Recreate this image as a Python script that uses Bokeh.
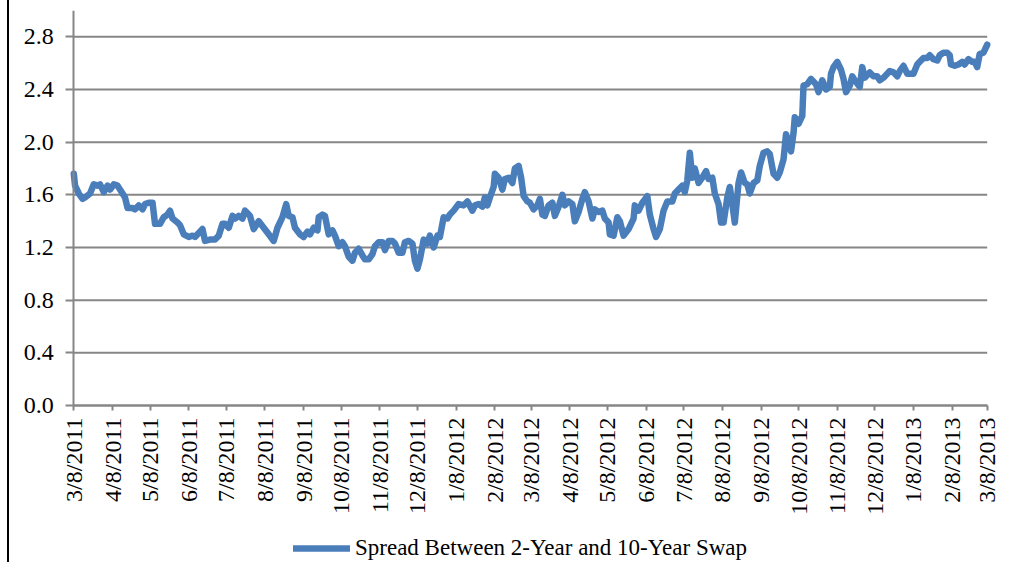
import math
import pandas as pd
from bokeh.plotting import figure
from bokeh.models import (Range1d, FixedTicker, Legend, LegendItem,
                          ColumnDataSource, PrintfTickFormatter)
from bokeh.embed import file_html
from bokeh.resources import INLINE

start_date = "2011-03-08"

tick_labels = ["3/8/2011", "4/8/2011", "5/8/2011", "6/8/2011", "7/8/2011",
               "8/8/2011", "9/8/2011", "10/8/2011", "11/8/2011", "12/8/2011",
               "1/8/2012", "2/8/2012", "3/8/2012", "4/8/2012", "5/8/2012",
               "6/8/2012", "7/8/2012", "8/8/2012", "9/8/2012", "10/8/2012",
               "11/8/2012", "12/8/2012", "1/8/2013", "2/8/2013", "3/8/2013"]

y_ticks = [0.0, 0.4, 0.8, 1.2, 1.6, 2.0, 2.4, 2.8]
y_max = 3.0

series_name = "Spread Between 2-Year and 10-Year Swap"

# days since 3/8/2011
day_offsets = [
    0, 1, 4, 7, 9, 13, 16, 19, 21, 24,
    27, 29, 32, 35, 39, 41, 43, 47, 49, 52,
    55, 57, 60, 63, 65, 69, 72, 75, 77, 79,
    83, 85, 88, 92, 95, 97, 100, 103, 105, 109,
    113, 116, 119, 121, 124, 127, 129, 132, 135, 137,
    140, 141, 144, 148, 152, 156, 160, 163, 167, 170,
    172, 175, 177, 181, 184, 187, 189, 192, 195, 196,
    199, 201, 204, 207, 209, 212, 215, 217, 220, 223,
    225, 228, 231, 233, 236, 239, 241, 244, 247, 249,
    252, 255, 257, 260, 263, 265, 268, 271, 273, 275,
    277, 280, 283, 285, 288, 291, 293, 296, 299, 301,
    304, 308, 312, 315, 319, 321, 324, 327, 329, 331,
    333, 336, 337, 340, 343, 345, 348, 351, 353, 356,
    358, 360, 363, 365, 368, 371, 373, 375, 377, 380,
    383, 385, 388, 391, 393, 396, 399, 401, 404, 407,
    409, 412, 415, 417, 420, 423, 425, 428, 429, 432,
    435, 437, 440, 444, 448, 449, 452, 455, 459, 461,
    464, 466, 469, 472, 475, 479, 481, 484, 487, 489,
    491, 493, 495, 497, 500, 503, 506, 508, 511, 513,
    516, 518, 520, 523, 525, 527, 529, 532, 534, 537,
    539, 541, 544, 547, 549, 552, 555, 557, 560, 563,
    565, 568, 570, 572, 574, 576, 577, 580, 583, 584,
    587, 590, 594, 596, 599, 602, 605, 606, 608, 611,
    614, 616, 618, 621, 623, 625, 629, 631, 633, 637,
    640, 643, 645, 648, 651, 653, 656, 659, 661, 664,
    667, 669, 672, 675, 677, 680, 683, 685, 688, 691,
    693, 696, 699, 701, 702, 705, 708, 711, 713, 716,
    719, 721, 723, 725, 728, 731,
]

spread = [
    1.76, 1.67, 1.61, 1.57, 1.58, 1.61, 1.68, 1.67, 1.68, 1.62,
    1.67, 1.64, 1.68, 1.67, 1.61, 1.58, 1.50, 1.50, 1.49, 1.52,
    1.49, 1.53, 1.54, 1.54, 1.38, 1.38, 1.43, 1.45, 1.48, 1.42,
    1.39, 1.37, 1.30, 1.28, 1.29, 1.28, 1.31, 1.34, 1.25, 1.26,
    1.26, 1.29, 1.38, 1.38, 1.35, 1.44, 1.42, 1.44, 1.42, 1.48,
    1.45, 1.44, 1.34, 1.40, 1.35, 1.30, 1.25, 1.35, 1.43, 1.53,
    1.44, 1.43, 1.35, 1.30, 1.28, 1.32, 1.30, 1.35, 1.33, 1.43,
    1.45, 1.44, 1.30, 1.33, 1.29, 1.21, 1.24, 1.21, 1.13, 1.10,
    1.16, 1.19, 1.14, 1.11, 1.11, 1.15, 1.21, 1.24, 1.24, 1.18,
    1.25, 1.25, 1.23, 1.16, 1.16, 1.24, 1.25, 1.23, 1.10, 1.04,
    1.11, 1.26, 1.23, 1.29, 1.20, 1.29, 1.28, 1.43, 1.42, 1.45,
    1.48, 1.53, 1.52, 1.55, 1.48, 1.52, 1.53, 1.51, 1.58, 1.52,
    1.58, 1.66, 1.76, 1.73, 1.64, 1.72, 1.73, 1.69, 1.80, 1.82,
    1.73, 1.59, 1.55, 1.54, 1.49, 1.52, 1.57, 1.45, 1.44, 1.52,
    1.54, 1.44, 1.51, 1.60, 1.52, 1.55, 1.53, 1.40, 1.47, 1.57,
    1.62, 1.55, 1.42, 1.49, 1.47, 1.48, 1.42, 1.39, 1.30, 1.29,
    1.43, 1.40, 1.29, 1.34, 1.42, 1.52, 1.48, 1.54, 1.59, 1.45,
    1.34, 1.28, 1.34, 1.48, 1.55, 1.55, 1.61, 1.64, 1.67, 1.62,
    1.71, 1.92, 1.73, 1.80, 1.69, 1.73, 1.78, 1.72, 1.73, 1.61,
    1.53, 1.39, 1.39, 1.58, 1.66, 1.53, 1.39, 1.69, 1.77, 1.69,
    1.68, 1.61, 1.69, 1.71, 1.82, 1.92, 1.93, 1.91, 1.76, 1.73,
    1.77, 1.87, 2.06, 2.00, 1.93, 2.07, 2.19, 2.14, 2.20, 2.43,
    2.44, 2.48, 2.44, 2.38, 2.47, 2.40, 2.42, 2.52, 2.57, 2.61,
    2.55, 2.48, 2.38, 2.43, 2.50, 2.47, 2.42, 2.57, 2.49, 2.53,
    2.50, 2.50, 2.47, 2.49, 2.52, 2.54, 2.53, 2.50, 2.54, 2.58,
    2.52, 2.52, 2.52, 2.59, 2.61, 2.64, 2.64, 2.66, 2.63, 2.62,
    2.66, 2.68, 2.68, 2.66, 2.59, 2.58, 2.59, 2.61, 2.59, 2.63,
    2.61, 2.61, 2.57, 2.67, 2.68, 2.74,
]

assert len(day_offsets) == len(spread)

base = pd.Timestamp(start_date)
dates = base + pd.to_timedelta(day_offsets, unit="D")
tick_dates = pd.to_datetime(tick_labels, format="%m/%d/%Y")
epoch = pd.Timestamp("1970-01-01")
tick_ms = [int((d - epoch).total_seconds() * 1000) for d in tick_dates]
x_start, x_end = tick_dates[0], tick_dates[-1]

src = ColumnDataSource(data=dict(date=dates, spread=spread))

FONT = "Liberation Serif"
GRAY = "#868686"

# ---- layout (page pixels) ----
FIG_X0, FIG_W, H = 9, 1003, 562      # figure starts after the black left rule
AX_X0, AX_X1 = 73.3, 986.7           # first / last date on the page
TOP, ZERO_Y = 10, 405                # y = y_max / y = 0 on the page
span_days = (x_end - x_start).days
px_per_day = (AX_X1 - AX_X0) / span_days
left_pad = pd.Timedelta(days=(AX_X0 - FIG_X0) / px_per_day)
right_pad = pd.Timedelta(days=(FIG_X0 + FIG_W - AX_X1) / px_per_day)
px_per_unit = (ZERO_Y - TOP) / y_max
y_bottom = -(H - ZERO_Y) / px_per_unit

p = figure(width=FIG_W, height=H, x_axis_type="datetime",
           output_backend="svg", toolbar_location=None,
           x_range=Range1d(x_start - left_pad, x_end + right_pad),
           y_range=Range1d(y_bottom, y_max),
           min_border_left=0, min_border_right=0,
           min_border_top=TOP, min_border_bottom=0)
p.styles = {"border-left": "2px solid #000000", "margin-left": "7px"}
p.outline_line_color = None
p.background_fill_color = "white"
p.border_fill_color = "white"
p.xgrid.visible = False
p.ygrid.visible = False

# horizontal gridlines spanning the date axis only
p.segment(x0=[x_start] * len(y_ticks), y0=y_ticks,
          x1=[x_end] * len(y_ticks), y1=y_ticks,
          line_color=GRAY, line_width=2)

# axes fixed inside the frame
p.xaxis.fixed_location = 0
p.xaxis.bounds = (tick_ms[0], tick_ms[-1])
p.xaxis.ticker = FixedTicker(ticks=tick_ms)
p.xaxis.major_label_overrides = {t: lab for t, lab in zip(tick_ms, tick_labels)}
p.xaxis.major_label_orientation = math.pi / 2
p.yaxis.fixed_location = tick_ms[0]
p.yaxis.bounds = (0, y_max)
p.yaxis.ticker = FixedTicker(ticks=y_ticks)
p.yaxis.formatter = PrintfTickFormatter(format="%.1f")

for ax in (p.xaxis[0], p.yaxis[0]):
    ax.axis_line_color = GRAY
    ax.axis_line_width = 2
    ax.major_tick_line_color = GRAY
    ax.major_tick_line_width = 2
    ax.major_tick_in = 0
    ax.minor_tick_line_color = None
    ax.major_label_text_font = FONT
    ax.major_label_text_font_size = "24px"
    ax.major_label_text_color = "#000000"
p.yaxis.major_tick_out = 8
p.yaxis.major_label_standoff = 12
p.xaxis.major_tick_out = 5
p.xaxis.major_label_standoff = 7

r = p.line(x="date", y="spread", source=src, line_color="#4A7EBB",
           line_width=6.5, line_join="round", line_cap="round")

legend = Legend(items=[LegendItem(label=series_name, renderers=[r])],
                location=(293 - FIG_X0, 1), orientation="horizontal",
                glyph_width=57, glyph_height=24, label_height=24,
                label_standoff=5, padding=0, margin=0, spacing=0,
                border_line_color=None, background_fill_alpha=0,
                label_text_font=FONT, label_text_font_size="23px",
                label_text_color="#000000")
p.add_layout(legend)

open("out.html", "w").write(file_html(p, INLINE))
